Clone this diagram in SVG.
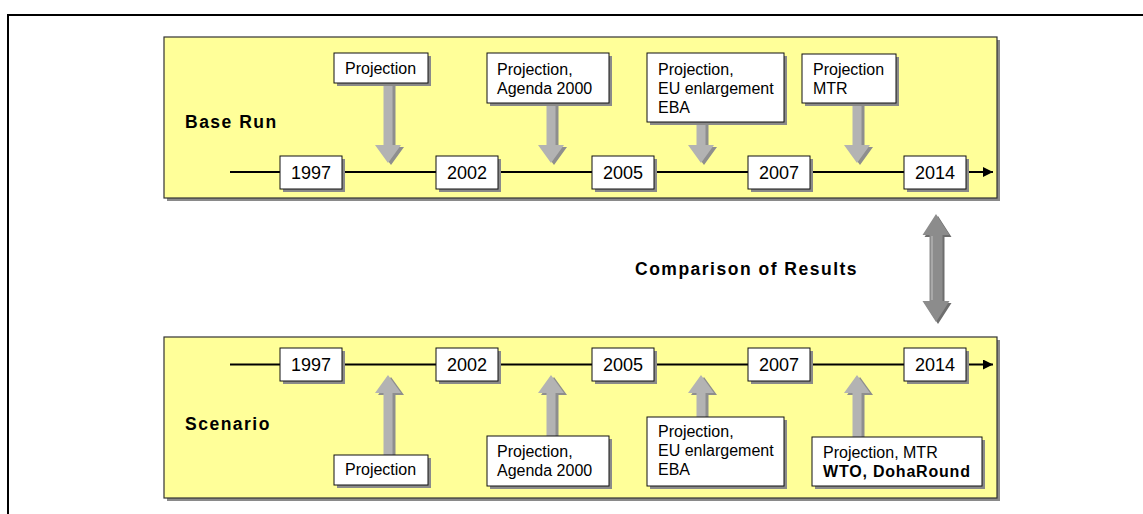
<svg xmlns="http://www.w3.org/2000/svg" width="1143" height="514" viewBox="0 0 1143 514">
<style>
.panel{fill:#ffff99;stroke:#333;stroke-width:1.2}
.pshadow{fill:#8a8a8a}
.box{fill:#fff;stroke:#111;stroke-width:1}
.bshadow{fill:#8a8a8a}
.yr{font-family:"Liberation Sans",Arial,sans-serif;font-size:18px;fill:#000;text-anchor:middle}
.t{font-family:"Liberation Sans",Arial,sans-serif;font-size:16px;fill:#000}
.tb{font-family:"Liberation Sans",Arial,sans-serif;font-size:16px;font-weight:bold;letter-spacing:0.8px;fill:#000}
.lbl{font-family:"Liberation Sans",Arial,sans-serif;font-size:17.5px;font-weight:bold;letter-spacing:1.5px;fill:#000}
.arr{fill:#b3b3b3}
.arrs{fill:#8e8e8e}
.tl{stroke:#000;stroke-width:2;fill:none}
</style>
<defs>
<marker id="ah" viewBox="0 0 10 10" refX="10" refY="5" markerWidth="10" markerHeight="10" markerUnits="userSpaceOnUse" orient="auto">
<path d="M0,0 L10,5 L0,10 z" fill="#000"/>
</marker>
</defs>

<path d="M8,514 V15 H1143" fill="none" stroke="#000" stroke-width="2"/>

<g id="panel-base">
<rect class="pshadow" x="167" y="40" width="833" height="161"/>
<rect class="panel" x="164" y="37" width="833" height="161"/>
<text class="lbl" x="185" y="128">Base Run</text>
</g>
<g id="panel-scenario">
<rect class="pshadow" x="167" y="340" width="833" height="161"/>
<rect class="panel" x="164" y="337" width="833" height="161"/>
<text class="lbl" x="185" y="430">Scenario</text>
</g>

<g id="connectors">
<line class="tl" x1="230" y1="172" x2="993" y2="172" marker-end="url(#ah)"/>
<line class="tl" x1="230" y1="364.5" x2="993" y2="364.5" marker-end="url(#ah)"/>
<!-- top arrows (down) -->
<polygon class="arrs" points="386.5,85 395.5,85 395.5,147 404,147 391,165 378,147 386.5,147"/>
<polygon class="arr" points="383.5,83 392.5,83 392.5,145 401,145 388,163 375,145 383.5,145"/>
<polygon class="arrs" points="549.5,105 558.5,105 558.5,147 567,147 554,165 541,147 549.5,147"/>
<polygon class="arr" points="546.5,103 555.5,103 555.5,145 564,145 551,163 538,145 546.5,145"/>
<polygon class="arrs" points="699.5,124 708.5,124 708.5,147 717,147 704,165 691,147 699.5,147"/>
<polygon class="arr" points="696.5,122 705.5,122 705.5,145 714,145 701,163 688,145 696.5,145"/>
<polygon class="arrs" points="855.5,105 864.5,105 864.5,147 873,147 860,165 847,147 855.5,147"/>
<polygon class="arr" points="852.5,103 861.5,103 861.5,145 870,145 857,163 844,145 852.5,145"/>
<!-- bottom arrows (up) -->
<polygon class="arrs" points="386.5,455 395.5,455 395.5,395 404,395 391,377 378,395 386.5,395"/>
<polygon class="arr" points="383.5,455 392.5,455 392.5,393 401,393 388,375 375,393 383.5,393"/>
<polygon class="arrs" points="549.5,436 558.5,436 558.5,395 567,395 554,377 541,395 549.5,395"/>
<polygon class="arr" points="546.5,436 555.5,436 555.5,393 564,393 551,375 538,393 546.5,393"/>
<polygon class="arrs" points="699.5,417 708.5,417 708.5,395 717,395 704,377 691,395 699.5,395"/>
<polygon class="arr" points="696.5,417 705.5,417 705.5,393 714,393 701,375 688,393 696.5,393"/>
<polygon class="arrs" points="855.5,437 864.5,437 864.5,395 873,395 860,377 847,395 855.5,395"/>
<polygon class="arr" points="852.5,437 861.5,437 861.5,393 870,393 857,375 844,393 852.5,393"/>
<!-- comparison double arrow -->
<polygon fill="#6e6e6e" points="938,216 951.5,237 944.5,237 944.5,303 951.5,303 938,324 924.5,303 931.5,303 931.5,237 924.5,237"/>
<polygon fill="#8c8c8c" points="936,214 949.5,235 942.5,235 942.5,301 949.5,301 936,322 922.5,301 929.5,301 929.5,235 922.5,235"/>
<line x1="932" y1="236" x2="932" y2="300" stroke="#a8a8a8" stroke-width="2"/>
</g>

<g id="label-comparison">
<text class="lbl" x="635" y="275">Comparison of Results</text>
</g>

<g id="y1997a"><rect class="bshadow" x="283" y="159" width="62" height="33"/><rect class="box" x="280" y="156" width="62" height="33"/><text class="yr" x="311" y="179">1997</text></g>
<g id="y2002a"><rect class="bshadow" x="439" y="159" width="62" height="33"/><rect class="box" x="436" y="156" width="62" height="33"/><text class="yr" x="467" y="179">2002</text></g>
<g id="y2005a"><rect class="bshadow" x="595" y="159" width="62" height="33"/><rect class="box" x="592" y="156" width="62" height="33"/><text class="yr" x="623" y="179">2005</text></g>
<g id="y2007a"><rect class="bshadow" x="751" y="159" width="62" height="33"/><rect class="box" x="748" y="156" width="62" height="33"/><text class="yr" x="779" y="179">2007</text></g>
<g id="y2014a"><rect class="bshadow" x="907" y="159" width="62" height="33"/><rect class="box" x="904" y="156" width="62" height="33"/><text class="yr" x="935" y="179">2014</text></g>

<g id="y1997b"><rect class="bshadow" x="283" y="351" width="62" height="33"/><rect class="box" x="280" y="348" width="62" height="33"/><text class="yr" x="311" y="371">1997</text></g>
<g id="y2002b"><rect class="bshadow" x="439" y="351" width="62" height="33"/><rect class="box" x="436" y="348" width="62" height="33"/><text class="yr" x="467" y="371">2002</text></g>
<g id="y2005b"><rect class="bshadow" x="595" y="351" width="62" height="33"/><rect class="box" x="592" y="348" width="62" height="33"/><text class="yr" x="623" y="371">2005</text></g>
<g id="y2007b"><rect class="bshadow" x="751" y="351" width="62" height="33"/><rect class="box" x="748" y="348" width="62" height="33"/><text class="yr" x="779" y="371">2007</text></g>
<g id="y2014b"><rect class="bshadow" x="907" y="351" width="62" height="33"/><rect class="box" x="904" y="348" width="62" height="33"/><text class="yr" x="935" y="371">2014</text></g>

<g id="p1a"><rect class="bshadow" x="337" y="56" width="94" height="30"/><rect class="box" x="334" y="53" width="94" height="30"/><text class="t" x="345" y="74">Projection</text></g>
<g id="p2a"><rect class="bshadow" x="490" y="56" width="122" height="50"/><rect class="box" x="487" y="53" width="122" height="50"/><text class="t" x="497" y="75">Projection,</text><text class="t" x="497" y="94">Agenda 2000</text></g>
<g id="p3a"><rect class="bshadow" x="650" y="56" width="137" height="69"/><rect class="box" x="647" y="53" width="137" height="69"/><text class="t" x="658" y="75">Projection,</text><text class="t" x="658" y="94">EU enlargement</text><text class="t" x="658" y="113">EBA</text></g>
<g id="p4a"><rect class="bshadow" x="805" y="57" width="94" height="49"/><rect class="box" x="802" y="54" width="94" height="49"/><text class="t" x="813" y="75">Projection</text><text class="t" x="813" y="94">MTR</text></g>

<g id="p1b"><rect class="bshadow" x="337" y="458" width="94" height="30"/><rect class="box" x="334" y="455" width="94" height="30"/><text class="t" x="345" y="475">Projection</text></g>
<g id="p2b"><rect class="bshadow" x="490" y="439" width="122" height="50"/><rect class="box" x="487" y="436" width="122" height="50"/><text class="t" x="497" y="457">Projection,</text><text class="t" x="497" y="476">Agenda 2000</text></g>
<g id="p3b"><rect class="bshadow" x="650" y="420" width="137" height="69"/><rect class="box" x="647" y="417" width="137" height="69"/><text class="t" x="658" y="437">Projection,</text><text class="t" x="658" y="456">EU enlargement</text><text class="t" x="658" y="475">EBA</text></g>
<g id="p4b"><rect class="bshadow" x="815" y="440" width="170" height="49"/><rect class="box" x="812" y="437" width="170" height="49"/><text class="t" x="823" y="458">Projection, MTR</text><text class="tb" x="823" y="477">WTO, DohaRound</text></g>
</svg>
